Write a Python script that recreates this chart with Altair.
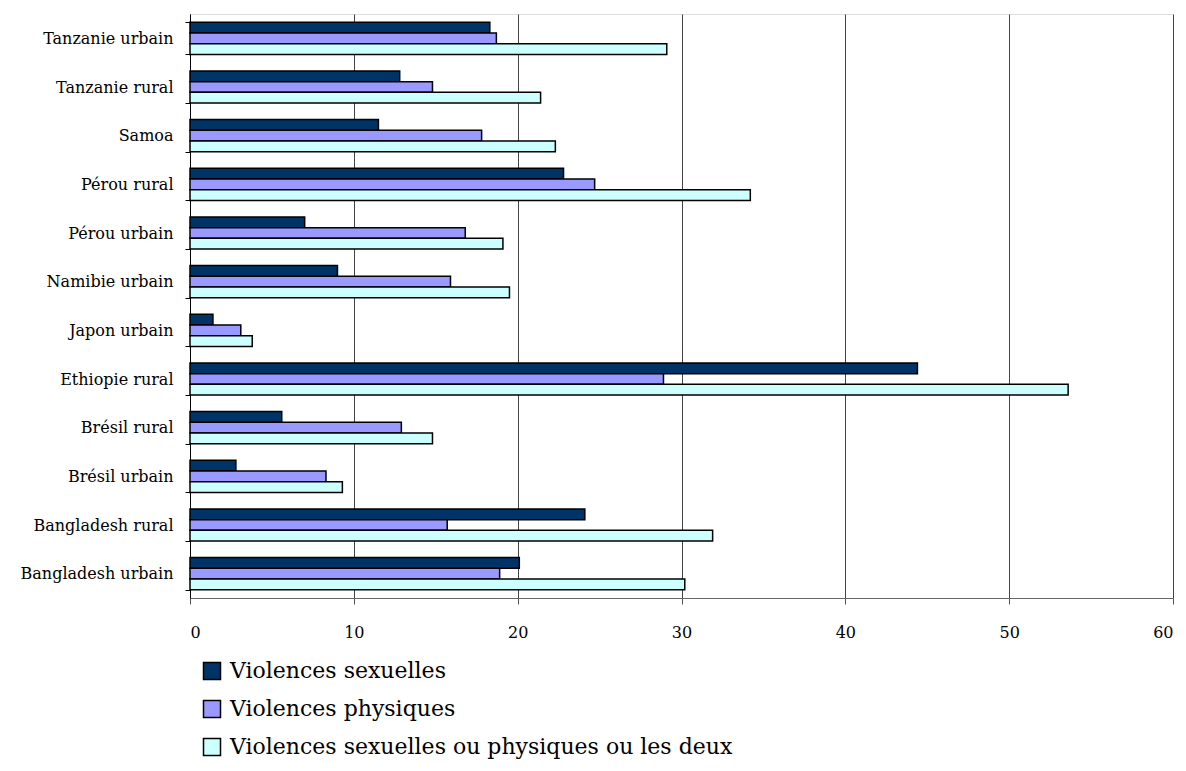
import altair as alt
import pandas as pd

categories = ["Tanzanie urbain", "Tanzanie rural", "Samoa", "Pérou rural", "Pérou urbain",
              "Namibie urbain", "Japon urbain", "Ethiopie rural", "Brésil rural",
              "Brésil urbain", "Bangladesh rural", "Bangladesh urbain"]
series = ["Violences sexuelles", "Violences physiques",
          "Violences sexuelles ou physiques ou les deux"]
sexuelles = [18.3, 12.8, 11.5, 22.8, 7.0, 9.0, 1.4, 44.4, 5.6, 2.8, 24.1, 20.1]
physiques = [18.7, 14.8, 17.8, 24.7, 16.8, 15.9, 3.1, 28.9, 12.9, 8.3, 15.7, 18.9]
les_deux = [29.1, 21.4, 22.3, 34.2, 19.1, 19.5, 3.8, 53.6, 14.8, 9.3, 31.9, 30.2]
colors = ["#003366", "#9999FF", "#CCFFFF"]
x_ticks = [0, 10, 20, 30, 40, 50, 60]

rows = []
for s, vals in zip(series, [sexuelles, physiques, les_deux]):
    for c, v in zip(categories, vals):
        rows.append({"Pays": c, "Série": s, "Valeur": v})
df = pd.DataFrame(rows)

FONT = "DejaVu Serif"

chart = alt.Chart(df).mark_bar(stroke="black", strokeWidth=1.5).encode(
    y=alt.Y("Pays:N", sort=categories, title=None,
            scale=alt.Scale(paddingInner=0.34, paddingOuter=0.17),
            axis=alt.Axis(tickBand="extent", tickSize=5, tickColor="black",
                          domainColor="black", labelFont=FONT, labelFontSize=16,
                          labelColor="black", labelPadding=12, grid=False)),
    yOffset=alt.YOffset("Série:N", sort=series, scale=alt.Scale(paddingInner=0, paddingOuter=0)),
    x=alt.X("Valeur:Q", title=None,
            scale=alt.Scale(domain=[0, 60], nice=False),
            axis=alt.Axis(values=x_ticks, tickSize=6, tickColor="#555555",
                          domainColor="#666666", labelFont=FONT, labelFontSize=16,
                          labelColor="black", labelPadding=20, grid=True,
                          gridColor="#444444", gridWidth=1, gridOpacity=1)),
    color=alt.Color("Série:N", sort=series,
                    scale=alt.Scale(domain=series, range=colors),
                    legend=alt.Legend(title=None, orient="none", legendX=11, legendY=646,
                                      direction="vertical", symbolType="square",
                                      symbolSize=289, symbolStrokeColor="black",
                                      symbolStrokeWidth=1.5, labelFont=FONT,
                                      labelFontSize=22, labelColor="black",
                                      rowPadding=14, labelLimit=0, labelOffset=7)),
).properties(
    width=983, height=584,
    autosize=alt.AutoSizeParams(type="none"),
    padding={"left": 182, "top": 6, "right": 5, "bottom": 165},
).configure_view(
    stroke="#808080", strokeWidth=1.5
).configure(background="white", font=FONT)

chart.save("out.html", embed_options={"renderer": "svg", "actions": False})
